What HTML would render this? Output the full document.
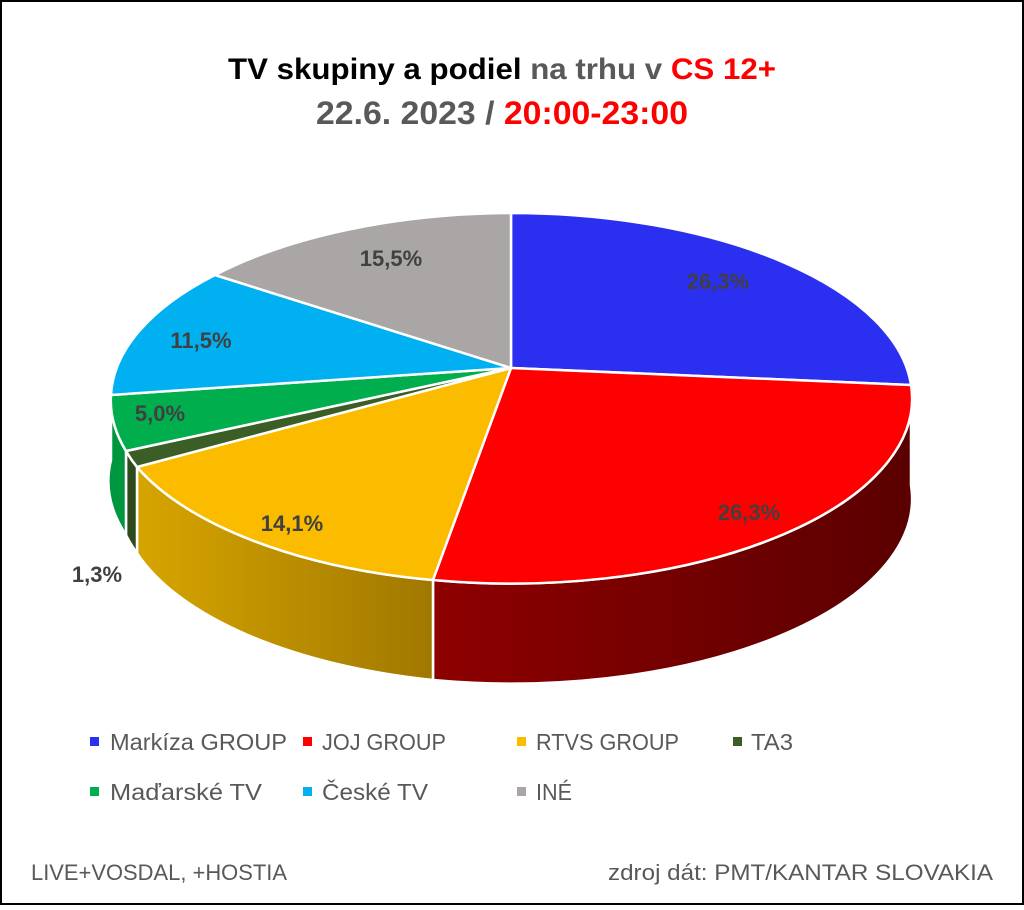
<!DOCTYPE html>
<html><head><meta charset="utf-8"><style>
html,body{margin:0;padding:0;background:#fff}
body{width:1024px;height:905px;overflow:hidden}
svg text{font-family:"Liberation Sans",sans-serif}
</style></head><body>
<svg width="1024" height="905" viewBox="0 0 1024 905" xmlns="http://www.w3.org/2000/svg">
<defs>
<linearGradient id="gr" x1="0" x2="1" y1="0" y2="0"><stop offset="0" stop-color="#8e0000"/><stop offset="1" stop-color="#5a0000"/></linearGradient>
<linearGradient id="gy" x1="0" x2="1" y1="0" y2="0"><stop offset="0" stop-color="#d7a500"/><stop offset="1" stop-color="#a07800"/></linearGradient>
</defs>
<rect x="1" y="1" width="1022" height="903" fill="#fff" stroke="#000" stroke-width="2"/>
<text x="228" y="79" font-size="30" font-weight="bold" textLength="548" lengthAdjust="spacingAndGlyphs"><tspan fill="#000">TV skupiny a podiel </tspan><tspan fill="#595959">na trhu v </tspan><tspan fill="#ff0000">CS 12+</tspan></text>
<text x="316" y="124" font-size="32" font-weight="bold" textLength="372" lengthAdjust="spacingAndGlyphs"><tspan fill="#595959">22.6. 2023 / </tspan><tspan fill="#ff0000">20:00-23:00</tspan></text>
<g stroke="#fff" stroke-width="2.5" stroke-linejoin="round">
<path d="M911,385 A401,185 0 0 1 433,580 L433,680 A401,185 0 0 0 911,485 Z" fill="url(#gr)"/>
<path d="M433,580 A401,185 0 0 1 137,467 L137,553 A401,185 0 0 0 433,680 Z" fill="url(#gy)"/>
<path d="M137,467 A401,185 0 0 1 126,451 L126,535 A401,185 0 0 0 137,553 Z" fill="#2f4a1c"/>
<path d="M126,451 A401,185 0 0 1 111,395 L111,460 A401,185 0 0 0 126,535 Z" fill="#00963f"/>
<path d="M511,368 L511,213 A401,185 0 0 1 911,385 Z" fill="#2b2ff0"/>
<path d="M511,368 L911,385 A401,185 0 0 1 433,580 Z" fill="#ff0000"/>
<path d="M511,368 L433,580 A401,185 0 0 1 137,467 Z" fill="#fbbc00"/>
<path d="M511,368 L137,467 A401,185 0 0 1 126,451 Z" fill="#3a5e26"/>
<path d="M511,368 L126,451 A401,185 0 0 1 111,395 Z" fill="#00ae4d"/>
<path d="M511,368 L111,395 A401,185 0 0 1 215,275 Z" fill="#00b0f0"/>
<path d="M511,368 L215,275 A401,185 0 0 1 511,213 Z" fill="#a9a6a5"/>
</g>
<g font-size="22" font-weight="bold" fill="#404040" text-anchor="middle">
<text x="718" y="289">26,3%</text>
<text x="749" y="520">26,3%</text>
<text x="292" y="531">14,1%</text>
<text x="97" y="582">1,3%</text>
<text x="160" y="421">5,0%</text>
<text x="201" y="348">11,5%</text>
<text x="391" y="266">15,5%</text>
</g>
<g font-size="23" fill="#595959" lengthAdjust="spacingAndGlyphs">
<rect x="90" y="737" width="9" height="9" fill="#2b2ff0"/><text x="110" y="750" textLength="177" lengthAdjust="spacingAndGlyphs">Markíza GROUP</text>
<rect x="303" y="737" width="9" height="9" fill="#ff0000"/><text x="322" y="750" textLength="124" lengthAdjust="spacingAndGlyphs">JOJ GROUP</text>
<rect x="517" y="737" width="9" height="9" fill="#fbbc00"/><text x="536" y="750" textLength="143" lengthAdjust="spacingAndGlyphs">RTVS GROUP</text>
<rect x="733" y="737" width="9" height="9" fill="#3a5e26"/><text x="751" y="750" textLength="42" lengthAdjust="spacingAndGlyphs">TA3</text>
<rect x="90" y="787" width="9" height="9" fill="#00ae4d"/><text x="110" y="800" textLength="152" lengthAdjust="spacingAndGlyphs">Maďarské  TV</text>
<rect x="303" y="787" width="9" height="9" fill="#00b0f0"/><text x="322" y="800" textLength="106" lengthAdjust="spacingAndGlyphs">České  TV</text>
<rect x="517" y="787" width="9" height="9" fill="#a9a6a5"/><text x="536" y="800" textLength="36" lengthAdjust="spacingAndGlyphs">INÉ</text>
</g>
<g font-size="22" fill="#595959">
<text x="31" y="880" textLength="256" lengthAdjust="spacingAndGlyphs">LIVE+VOSDAL, +HOSTIA</text>
<text x="608" y="880" textLength="385" lengthAdjust="spacingAndGlyphs">zdroj dát: PMT/KANTAR SLOVAKIA</text>
</g>
</svg>
</body></html>
